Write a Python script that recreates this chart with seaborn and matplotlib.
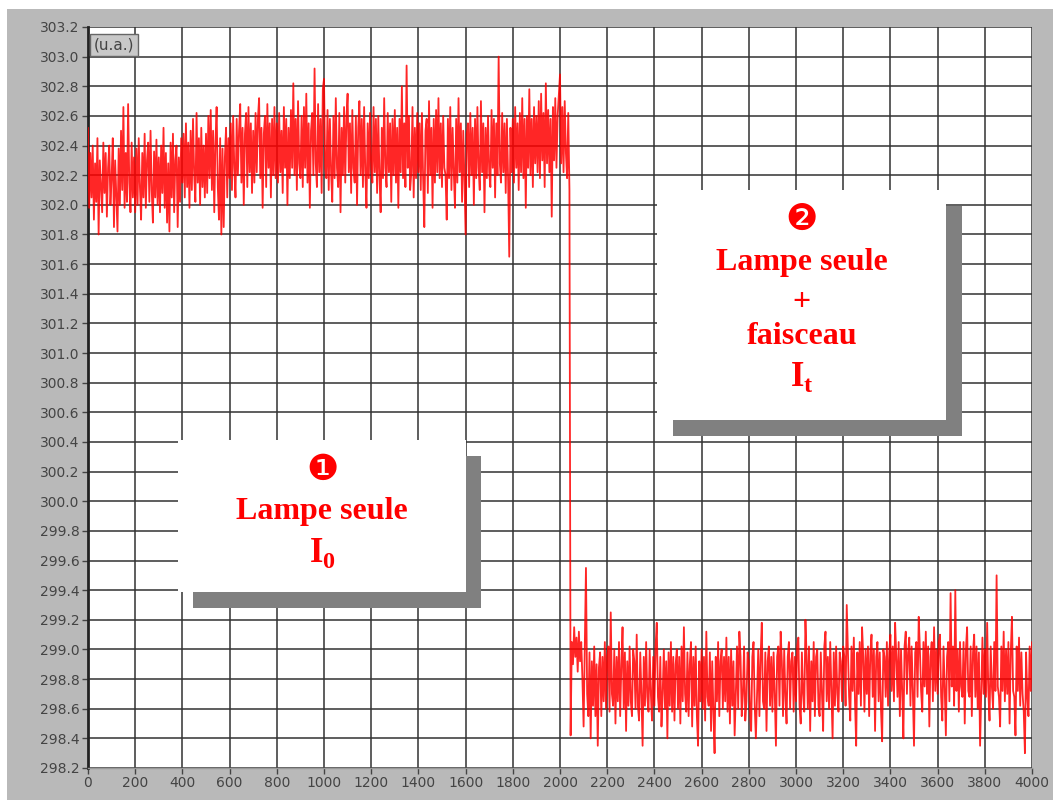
import matplotlib

matplotlib.use("Agg")
import matplotlib.pyplot as plt
import numpy as np
import pandas as pd
import seaborn as sns
from matplotlib.patches import Rectangle

# --- signal (u.a.), one sample every 5 units --------------------------------
STEP = 5

# lamp only, t = 0 .. 2040
lamp_only = [
    302.52, 301.98, 302.35, 302.05, 302.40, 301.90, 302.28, 302.02, 302.45, 301.80,
    302.30, 302.12, 301.95, 302.42, 302.08, 302.35, 301.92, 302.25, 302.40, 302.00,
    302.18, 302.45, 301.85, 302.30, 302.05, 301.82, 302.38, 302.00, 302.50, 302.10,
    302.66, 301.98, 302.35, 302.02, 302.68, 302.15, 301.95, 302.42, 302.05, 302.32,
    301.95, 302.38, 302.00, 302.45, 302.12, 301.90, 302.35, 302.05, 302.48, 301.98,
    302.30, 302.42, 302.02, 302.50, 302.10, 301.88, 302.36, 302.05, 302.44, 302.00,
    302.32, 301.95, 302.40, 302.08, 302.52, 301.98, 302.35, 301.88, 302.28, 301.82,
    302.42, 302.05, 302.48, 301.95, 302.30, 302.40, 301.85, 302.32, 302.02, 302.45,
    302.15, 302.48, 302.05, 302.55, 302.12, 302.42, 301.98, 302.50, 302.10, 302.58,
    302.20, 302.02, 302.62, 302.15, 302.45, 302.00, 302.52, 302.12, 302.40, 302.05,
    302.48, 302.08, 302.60, 302.18, 302.64, 302.10, 302.50, 301.95, 302.42, 302.66,
    302.12, 301.90, 302.45, 301.80, 302.38, 301.85, 302.32, 302.52, 302.05, 302.45,
    302.18, 302.55, 302.10, 302.60, 302.25, 302.05, 302.58, 302.20, 302.50, 302.68,
    302.15, 302.52, 302.00, 302.48, 302.62, 302.12, 302.66, 302.22, 302.55, 302.08,
    302.50, 302.15, 302.62, 302.22, 302.58, 302.72, 302.18, 302.52, 301.98, 302.48,
    302.60, 302.12, 302.68, 302.25, 302.55, 302.05, 302.58, 302.20, 302.66, 302.18,
    302.55, 302.15, 302.62, 302.22, 302.50, 302.08, 302.66, 302.25, 302.58, 302.00,
    302.52, 302.18, 302.64, 302.25, 302.82, 302.20, 302.58, 302.10, 302.70, 302.28,
    302.18, 302.60, 302.12, 302.66, 302.25, 302.75, 302.15, 302.55, 301.98, 302.50,
    302.62, 302.20, 302.92, 302.28, 302.12, 302.68, 302.22, 302.58, 302.08, 302.78,
    302.85, 302.25, 302.18, 302.64, 302.10, 302.58, 302.22, 302.02, 302.60, 302.18,
    302.72, 302.25, 302.12, 302.62, 301.95, 302.52, 302.20, 302.66, 302.15, 302.58,
    302.75, 302.22, 302.55, 302.08, 302.64, 302.25, 302.15, 302.60, 302.00, 302.52,
    302.70, 302.20, 302.58, 302.12, 302.66, 302.22, 301.98, 302.55, 302.18, 302.62,
    302.25, 302.15, 302.66, 302.22, 302.58, 302.08, 302.60, 302.20, 301.95, 302.52,
    302.18, 302.72, 302.25, 302.12, 302.62, 302.22, 302.55, 302.02, 302.58, 302.20,
    302.64, 302.15, 302.52, 301.98, 302.58, 302.22, 302.80, 302.18, 302.55, 302.12,
    302.94, 302.25, 302.60, 302.10, 302.22, 302.66, 302.05, 302.52, 302.18, 302.62,
    302.22, 302.55, 302.10, 302.62, 302.18, 301.85, 302.50, 302.58, 302.08, 302.70,
    302.20, 302.52, 301.98, 302.58, 302.15, 302.64, 302.22, 302.72, 302.18, 302.55,
    302.12, 302.60, 302.25, 302.20, 301.90, 302.58, 302.18, 302.66, 302.10, 302.52,
    302.22, 301.98, 302.58, 302.15, 302.72, 302.22, 302.55, 302.02, 302.50, 302.18,
    301.80, 302.48, 302.55, 302.12, 302.62, 302.20, 302.52, 302.00, 302.58, 302.18,
    302.66, 302.25, 302.10, 302.70, 302.22, 302.55, 301.95, 302.52, 302.18, 302.60,
    302.22, 302.12, 302.64, 302.25, 302.58, 302.05, 302.55, 302.20, 303.00, 302.28,
    302.15, 302.62, 302.22, 302.55, 302.08, 302.58, 302.18, 301.65, 302.52, 302.22,
    302.58, 302.15, 302.66, 302.25, 302.55, 302.10, 302.62, 302.22, 302.72, 302.18,
    302.58, 301.98, 302.60, 302.25, 302.78, 302.20, 302.58, 302.12, 302.66, 302.28,
    302.60, 302.22, 302.70, 302.18, 302.75, 302.30, 302.62, 302.12, 302.82, 302.28,
    302.64, 302.22, 302.58, 301.92, 302.66, 302.30, 302.72, 302.25, 302.60, 302.74,
    302.88, 302.28, 302.66, 302.22, 302.70, 302.35, 302.18, 302.62, 302.10,
]

# lamp + beam, t = 2045 .. 4000
lamp_beam = [
    298.42, 299.05, 298.90, 299.15, 298.95, 299.08, 298.85, 299.12, 298.92, 299.05,
    298.80,
    298.48, 299.00, 299.55, 298.70, 298.55, 298.98, 298.40, 298.92, 298.62, 299.02,
    298.55, 298.90, 298.35, 298.88, 298.98, 298.55, 298.95, 298.65, 299.05, 298.60,
    298.95, 299.02, 298.58, 299.25, 298.70, 298.62, 299.00, 298.50, 298.95, 298.65,
    299.05, 298.55, 298.90, 299.15, 298.60, 298.98, 298.45, 298.92, 298.62, 299.02,
    298.65, 298.55, 299.00, 298.92, 298.60, 299.10, 298.62, 298.52, 298.98, 298.70,
    298.35, 298.95, 298.62, 299.05, 298.68, 298.58, 299.00, 298.70, 298.52, 298.95,
    298.62, 299.02, 299.18, 298.68, 298.58, 298.95, 298.48, 298.70, 299.00, 298.60,
    298.92, 298.40, 298.98, 298.62, 299.05, 298.58, 298.95, 298.52, 298.90, 299.00,
    298.60, 298.95, 298.50, 299.02, 298.65, 299.15, 298.70, 298.58, 298.98, 298.55,
    298.90, 299.05, 298.48, 298.95, 298.62, 299.02, 298.55, 298.35, 298.92, 298.65,
    299.00, 298.60, 298.95, 298.52, 299.12, 298.68, 298.62, 298.98, 298.45, 298.92,
    298.58, 298.30, 298.95, 298.65, 299.05, 298.55, 298.92, 299.00, 298.60, 298.95,
    298.65, 299.08, 298.58, 298.95, 298.50, 299.00, 298.62, 298.92, 298.42, 298.70,
    299.02, 298.60, 299.12, 298.95, 298.55, 298.70, 299.02, 298.52, 298.65, 298.98,
    298.92, 298.58, 298.45, 298.95, 299.05, 298.62, 298.40, 298.70, 299.00, 298.55,
    298.95, 299.18, 298.65, 298.60, 298.98, 298.45, 298.92, 299.02, 298.62, 298.95,
    298.58, 298.98, 298.70, 298.35, 298.95, 299.02, 298.62, 299.12, 298.92, 298.55,
    299.00, 298.68, 298.50, 298.95, 299.05, 298.60, 298.92, 298.98, 298.58, 298.95,
    298.65, 299.02, 299.08, 298.62, 298.50, 298.98, 298.70, 298.58, 299.20, 298.95,
    298.60, 299.02, 298.45, 298.92, 298.65, 299.05, 298.55, 298.95, 299.00, 298.62,
    298.55, 298.98, 298.70, 298.45, 299.02, 299.12, 298.65, 298.95, 298.60, 299.05,
    298.72, 298.40, 298.98, 298.62, 299.02, 298.70, 298.58, 298.98, 298.92, 298.65,
    299.02, 298.95, 298.62, 299.30, 298.98, 298.68, 298.52, 299.02, 298.72, 299.08,
    298.65, 298.35, 298.98, 298.70, 299.05, 298.62, 299.15, 298.95, 298.58, 299.00,
    298.70, 299.02, 298.55, 298.98, 299.10, 298.68, 299.00, 298.45, 298.95, 299.05,
    298.65, 298.98, 298.60, 298.38, 299.00, 298.95, 298.68, 299.05, 298.62, 298.98,
    299.10, 298.72, 299.02, 298.65, 299.18, 298.95, 298.68, 299.05, 298.55, 299.00,
    298.72, 298.40, 299.02, 299.12, 298.70, 298.98, 299.08, 298.62, 299.02, 298.72,
    298.35, 298.98, 299.05, 298.68, 299.22, 299.00, 298.72, 298.58, 299.05, 298.75,
    299.12, 298.70, 299.02, 298.48, 298.95, 299.05, 298.65, 299.15, 298.72, 299.00,
    298.70, 299.05, 299.10, 298.68, 298.52, 299.02, 298.75, 298.42, 298.95, 299.05,
    298.65, 299.38, 298.75, 299.02, 298.62, 299.40, 298.72, 299.00, 298.58, 299.05,
    298.75, 298.68, 299.05, 298.50, 299.00, 299.15, 298.72, 298.68, 299.02, 298.55,
    298.98, 299.10, 298.68, 299.02, 298.60, 298.98, 298.35, 298.72, 299.08, 298.70,
    299.00, 298.68, 299.18, 298.72, 298.52, 299.02, 298.75, 298.60, 299.05, 298.72,
    299.50, 298.75, 298.68, 298.48, 299.02, 298.72, 299.12, 298.65, 299.00, 298.70,
    299.05, 298.50, 298.98, 299.22, 298.72, 298.68, 298.42, 299.02, 298.72, 299.08,
    298.62, 298.98, 298.70, 298.58, 298.30, 298.98, 298.68, 298.55, 299.02, 298.72,
    299.05,
]

x_ticks = list(range(0, 4001, 200))
y_ticks = [round(298.2 + 0.2 * i, 1) for i in range(26)]

signal = lamp_only + lamp_beam
df = pd.DataFrame({"t": np.arange(len(signal)) * STEP, "value": signal})

# ---------------------------------------------------------------- figure
sns.set_theme(style="white")
plt.rcParams["mathtext.fontset"] = "custom"
plt.rcParams["mathtext.rm"] = "Liberation Serif:bold"
plt.rcParams["mathtext.bf"] = "Liberation Serif:bold"

GRAY_PANEL = "#b9b9b9"
RED = "#ff0000"

fig = plt.figure(figsize=(10.53, 8), dpi=100, facecolor="white")
fig.patches.append(Rectangle((7 / 1053, 0), 1, 791 / 800, transform=fig.transFigure,
                             facecolor=GRAY_PANEL, edgecolor="none", zorder=-10))
ax = fig.add_axes([88 / 1053, 32 / 800, 944 / 1053, 741 / 800])
ax.set_facecolor("white")

# scope trace: dense enough that the noise band reads as solid red
sns.lineplot(data=df, x="t", y="value", color=RED, lw=1.3, alpha=0.85,
             estimator=None, ax=ax, zorder=3)

ax.set_xlim(0, 4000)
ax.set_ylim(298.2, 303.2)
ax.set_xticks(x_ticks)
ax.set_yticks(y_ticks)
ax.set_xticklabels([str(v) for v in x_ticks])
ax.set_yticklabels([f"{v:.1f}" for v in y_ticks])
ax.set_xlabel("")
ax.set_ylabel("")
ax.grid(True, color="#333333", lw=1.3, alpha=0.85, zorder=1)
ax.tick_params(axis="both", labelsize=10, colors="#444444", length=4, width=1,
               direction="out", pad=2, left=True, bottom=True)
for side in ("top", "right"):
    ax.spines[side].set_visible(False)
ax.spines["left"].set_color("#222222")
ax.spines["left"].set_linewidth(2)
ax.spines["bottom"].set_color("#999999")
ax.spines["bottom"].set_linewidth(1)

ax.text(25, 303.13, "(u.a.)", fontsize=11, color="#444444", va="top", ha="left",
        bbox=dict(boxstyle="square,pad=0.25", facecolor="#c8c8c8", edgecolor="#666666"),
        zorder=6)


def note_box(x0, x1, y0, y1, dx, dy):
    ax.add_patch(Rectangle((x0 + dx, y0 - dy), x1 - x0, y1 - y0,
                           facecolor="#808080", edgecolor="none", zorder=4))
    ax.add_patch(Rectangle((x0, y0), x1 - x0, y1 - y0,
                           facecolor="white", edgecolor="none", zorder=5))


serif = ["Liberation Serif", "DejaVu Serif"]
label_kw = dict(color=RED, fontsize=23, fontweight="bold", ha="center", va="center",
                family=serif, zorder=6)
badge_kw = dict(color=RED, fontsize=26, ha="center", va="center",
                family=["DejaVu Sans"], zorder=6)
sym_kw = dict(color=RED, fontsize=25, ha="center", va="center", zorder=6)

note_box(381, 1601, 299.39, 300.41, 66, 0.108)
ax.text(992, 300.21, "\u2776", **badge_kw)
ax.text(992, 299.93, "Lampe seule", **label_kw)
ax.text(992, 299.65, r"$\mathbf{I}_{\mathbf{0}}$", **sym_kw)

note_box(2411, 3636, 300.55, 302.10, 66, 0.11)
ax.text(3025, 301.90, "\u2777", **badge_kw)
ax.text(3025, 301.61, "Lampe seule", **label_kw)
ax.text(3025, 301.34, "+", **label_kw)
ax.text(3025, 301.11, "faisceau", **label_kw)
ax.text(3025, 300.84, r"$\mathbf{I}_{\mathbf{t}}$", **sym_kw)

fig.savefig("out.png", dpi=100, facecolor=fig.get_facecolor())
